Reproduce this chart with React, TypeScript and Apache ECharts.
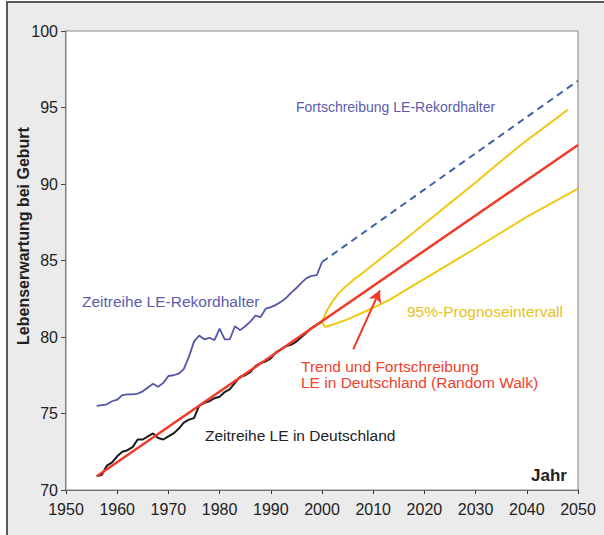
import React, { useEffect, useRef } from "react";
import * as echarts from "echarts";

// Zeitreihe LE in Deutschland
const deYears = [1956, 1957, 1958, 1959, 1960, 1961, 1962, 1963, 1964, 1965, 1966, 1967, 1968, 1969, 1970, 1971, 1972, 1973, 1974, 1975, 1976, 1977, 1978, 1979, 1980, 1981, 1982, 1983, 1984, 1985, 1986, 1987, 1988, 1989, 1990, 1991, 1992, 1993, 1994, 1995, 1996, 1997, 1998, 1999, 2000];
const deValues = [70.9, 71.0, 71.6, 71.8, 72.2, 72.5, 72.6, 72.8, 73.3, 73.3, 73.5, 73.7, 73.4, 73.3, 73.5, 73.7, 74.0, 74.4, 74.6, 74.7, 75.5, 75.7, 75.8, 76.0, 76.1, 76.4, 76.6, 77.0, 77.4, 77.5, 77.7, 78.1, 78.3, 78.4, 78.6, 79.0, 79.2, 79.4, 79.5, 79.7, 80.0, 80.3, 80.6, 80.8, 81.0];

// Zeitreihe LE-Rekordhalter
const recYears = [1956, 1957, 1958, 1959, 1960, 1961, 1962, 1963, 1964, 1965, 1966, 1967, 1968, 1969, 1970, 1971, 1972, 1973, 1974, 1975, 1976, 1977, 1978, 1979, 1980, 1981, 1982, 1983, 1984, 1985, 1986, 1987, 1988, 1989, 1990, 1991, 1992, 1993, 1994, 1995, 1996, 1997, 1998, 1999, 2000];
const recValues = [75.5, 75.55, 75.6, 75.8, 75.9, 76.2, 76.25, 76.25, 76.3, 76.45, 76.7, 76.95, 76.75, 77.0, 77.45, 77.5, 77.6, 77.9, 78.7, 79.7, 80.1, 79.85, 79.95, 79.8, 80.55, 79.85, 79.85, 80.7, 80.45, 80.7, 81.0, 81.4, 81.3, 81.85, 81.95, 82.1, 82.3, 82.55, 82.9, 83.2, 83.55, 83.85, 84.0, 84.05, 84.9];

// Fortschreibung LE-Rekordhalter
const recProjYears = [2000, 2050];
const recProjValues = [84.9, 96.75];

// Trend und Fortschreibung LE in Deutschland (Random Walk)
const trendYears = [1956, 2050];
const trendValues = [70.9, 92.55];

// 95%-Prognoseintervall
const upperYears = [2000, 2001, 2002, 2003, 2004, 2006, 2008, 2011, 2015, 2020, 2025, 2030, 2035, 2039, 2044, 2048];
const upperValues = [81.0, 81.75, 82.3, 82.75, 83.1, 83.7, 84.2, 85.0, 86.05, 87.4, 88.75, 90.1, 91.5, 92.6, 93.85, 94.85];
const lowerYears = [2000, 2000.6, 2002, 2005, 2009, 2013, 2020, 2030, 2040, 2050];
const lowerValues = [81.0, 80.65, 80.8, 81.15, 81.75, 82.4, 83.8, 85.8, 87.85, 89.7];

// arrow (data coordinates)
const arrowFrom = [2006.1, 79.2];
const arrowTo = [2011.3, 83.05];

const pairs = (xs: number[], ys: number[]) => xs.map((x, i) => [x, ys[i]]);

const FONT = "'Liberation Sans', Arial, sans-serif";

export default function App() {
  const ref = useRef<HTMLDivElement>(null);
  useEffect(() => {
    if (!ref.current) return;
    const chart = echarts.init(ref.current, undefined, { renderer: "svg" });
    const txt = (text: string, x: number, y: number, fill: string, size: number, extra: any = {}) => ({
      type: "text",
      x,
      y,
      z: 50,
      style: {
        text,
        fill,
        fontSize: size,
        fontFamily: FONT,
        align: "left",
        verticalAlign: "middle",
        ...extra,
      },
    });
    chart.setOption({
      animation: false,
      backgroundColor: "#ffffff",
      textStyle: { fontFamily: FONT },
      grid: {
        left: 66,
        right: 26,
        top: 31,
        bottom: 45,
        show: true,
        backgroundColor: "#ffffff",
        borderColor: "#8a8a8a",
        borderWidth: 1,
        z: 1,
      },
      xAxis: {
        type: "value",
        min: 1950,
        max: 2050,
        interval: 10,
        axisLine: { show: true, lineStyle: { color: "#333", width: 1.5 } },
        axisTick: { show: true, length: 4, lineStyle: { color: "#333" } },
        axisLabel: {
          color: "#222",
          fontSize: 16,
          margin: 11,
          fontFamily: FONT,
          formatter: (v: number) => String(v),
        },
        splitLine: { show: true, lineStyle: { color: "#d6d6d6", width: 1 } },
      },
      yAxis: {
        type: "value",
        min: 70,
        max: 100,
        interval: 5,
        axisLine: { show: true, lineStyle: { color: "#444", width: 1.5 } },
        axisTick: { show: true, length: 5, lineStyle: { color: "#444" } },
        axisLabel: { color: "#222", fontSize: 16, margin: 8, fontFamily: FONT },
        splitLine: { show: true, lineStyle: { color: "#d6d6d6", width: 1 } },
      },
      graphic: [
        {
          type: "rect",
          z: -100,
          zlevel: 0,
          shape: { x: 7, y: 2, width: 700, height: 600 },
          style: { fill: "#ebebeb", stroke: "#5a5a5a", lineWidth: 2 },
        },
        {
          type: "text",
          x: 23,
          y: 236,
          rotation: Math.PI / 2,
          z: 50,
          style: {
            text: "Lebenserwartung bei Geburt",
            fill: "#222",
            fontSize: 16,
            fontWeight: "bold",
            fontFamily: FONT,
            align: "center",
            verticalAlign: "middle",
          },
        },
        txt("Jahr", 531, 475, "#222", 17, { fontWeight: "bold" }),
        txt("Fortschreibung LE-Rekordhalter", 294, 107, "#5c5cac", 14, { backgroundColor: "#fff", padding: [1, 2] }),
        txt("Zeitreihe LE-Rekordhalter", 80, 301, "#5c5cac", 15.5, { backgroundColor: "#fff", padding: [1, 2] }),
        txt("95%-Prognoseintervall", 405, 311, "#e8c020", 15.5, { backgroundColor: "#fff", padding: [1, 2] }),
        txt("Trend und Fortschreibung\nLE in Deutschland (Random Walk)", 299, 374, "#f0402f", 15.5, {
          backgroundColor: "#fff",
          padding: [1, 2],
          lineHeight: 16,
        }),
        txt("Zeitreihe LE in Deutschland", 203, 435, "#222", 15.5, { backgroundColor: "#fff", padding: [1, 2] }),
      ],
      series: [
        {
          type: "line",
          name: "Zeitreihe LE-Rekordhalter",
          data: pairs(recYears, recValues),
          showSymbol: false,
          z: 3,
          lineStyle: { color: "#5656a8", width: 1.8 },
        },
        {
          type: "line",
          name: "Fortschreibung LE-Rekordhalter",
          data: pairs(recProjYears, recProjValues),
          showSymbol: false,
          z: 3,
          lineStyle: { color: "#3d62a6", width: 2, type: [7, 5] },
        },
        {
          type: "line",
          name: "95% oben",
          data: pairs(upperYears, upperValues),
          showSymbol: false,
          z: 3,
          lineStyle: { color: "#f0c814", width: 2 },
        },
        {
          type: "line",
          name: "95% unten",
          data: pairs(lowerYears, lowerValues),
          showSymbol: false,
          z: 3,
          lineStyle: { color: "#f0c814", width: 2 },
        },
        {
          type: "line",
          name: "Zeitreihe LE in Deutschland",
          data: pairs(deYears, deValues),
          showSymbol: false,
          z: 3,
          lineStyle: { color: "#1a1a1a", width: 2 },
        },
        {
          type: "line",
          name: "Trend",
          data: pairs(trendYears, trendValues),
          showSymbol: false,
          z: 4,
          lineStyle: { color: "#f03a2a", width: 2.5 },
          markLine: {
            silent: true,
            symbol: ["none", "arrow"],
            symbolSize: [10, 12],
            label: { show: false },
            lineStyle: { color: "#f03a2a", width: 2, type: "solid" },
            data: [[{ coord: arrowFrom }, { coord: arrowTo }]],
          },
        },
      ],
    });
    return () => chart.dispose();
  }, []);
  return (
    <div
      ref={ref}
      style={{ position: "absolute", left: 0, top: 0, width: 604, height: 535 }}
    />
  );
}
